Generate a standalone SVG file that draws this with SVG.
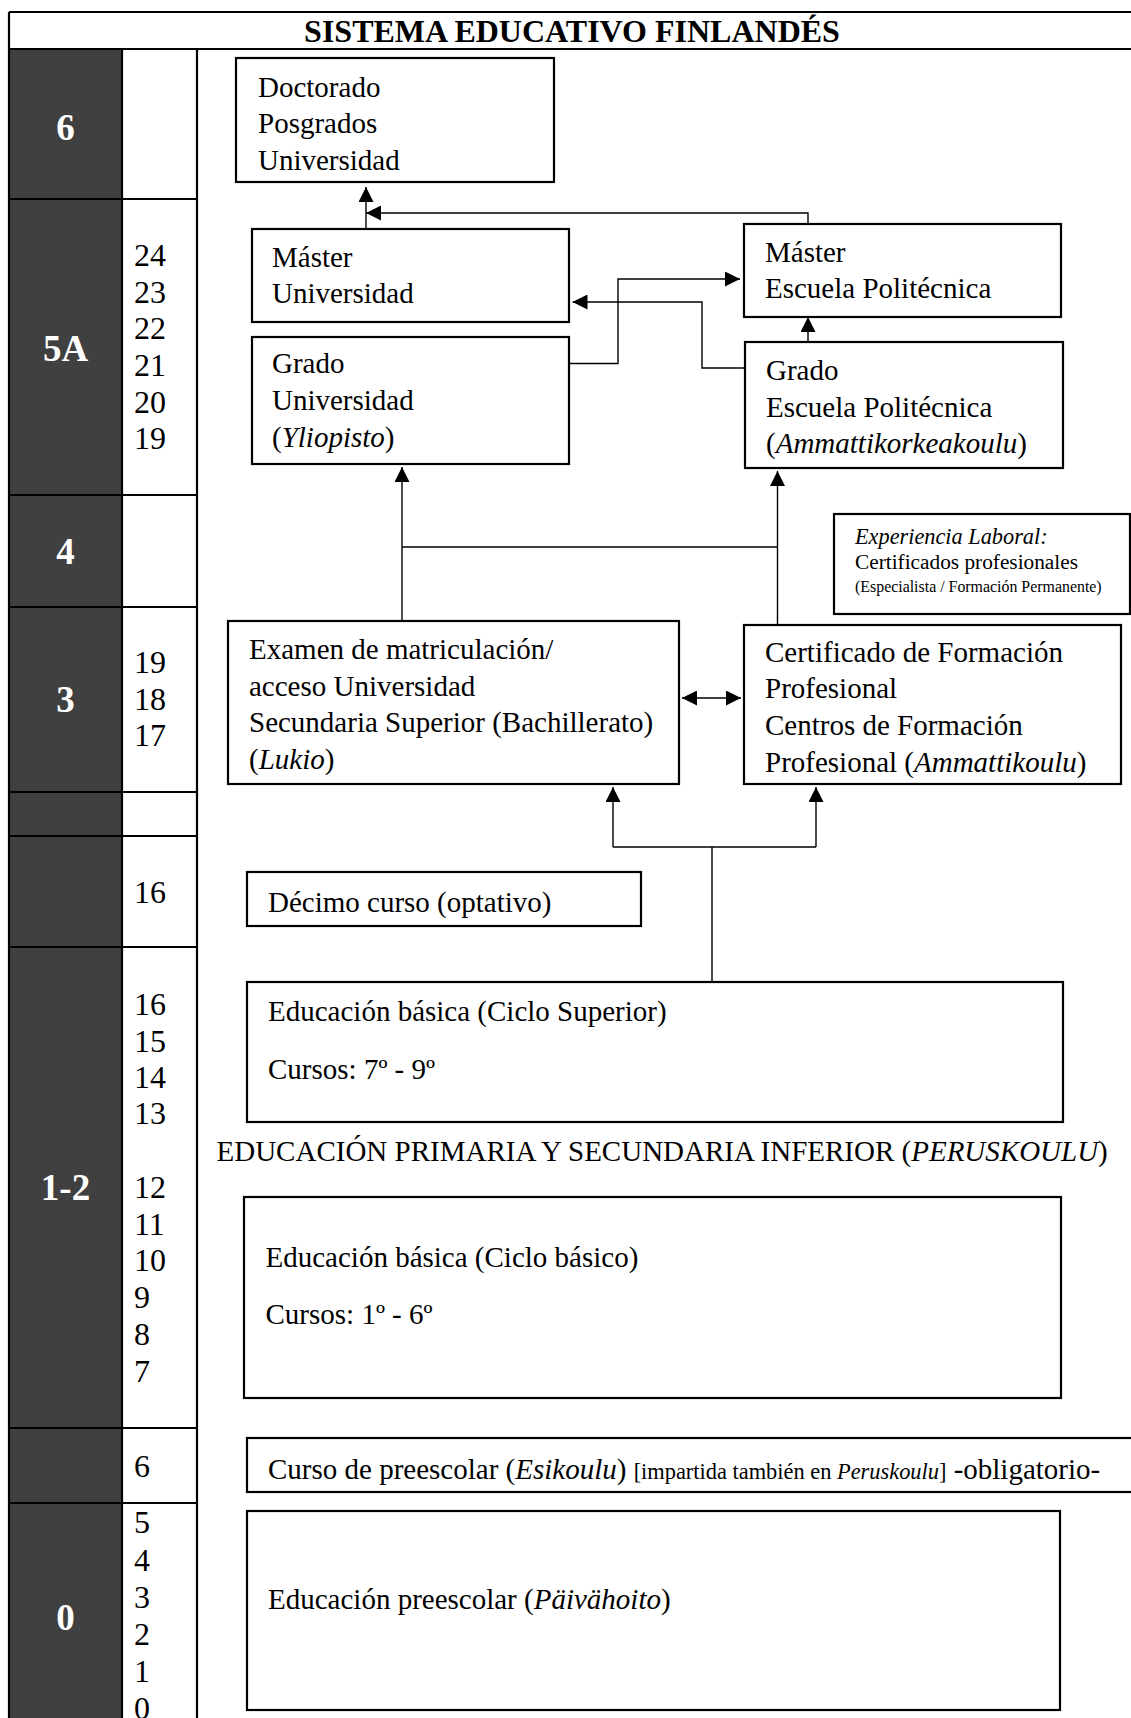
<svg xmlns="http://www.w3.org/2000/svg" width="1131" height="1718" viewBox="0 0 1131 1718">
<defs>
<style>
  text { font-family: "Liberation Serif", "Times New Roman", serif; fill: #000; }
  .t { font-size: 29px; }
  .age { font-size: 32px; }
  .lvl { font-size: 37px; font-weight: bold; fill: #fff; text-anchor: middle; }
  .title { font-size: 32px; font-weight: bold; text-anchor: middle; }
  .sm { font-size: 22.4px; }
  .box { fill: #fff; stroke: #000; stroke-width: 2.2; }
  .grid { stroke: #000; stroke-width: 2.2; fill: none; }
  .conn { stroke: #000; stroke-width: 1.4; fill: none; }
  .arr { marker-end: url(#arrow); }
  .i { font-style: italic; }
</style>
<marker id="arrow" markerUnits="userSpaceOnUse" markerWidth="15" markerHeight="15" viewBox="0 0 15 15" refX="15" refY="7.5" orient="auto-start-reverse">
  <path d="M0,0 L15,7.5 L0,15 z" fill="#000"/>
</marker>
</defs>

<rect width="1131" height="1718" fill="#fff"/>

<!-- table frame: level column, age column, content column -->
<g id="table">
  <rect x="9" y="49" width="113" height="1690" fill="#404040"/>
  <path class="grid" d="M9,12 H1140 M9,49 H1140 M9,12 V1740 M122,49 V1740 M197,49 V1740 M1135,12 V1740
    M9,199 H197 M9,495 H197 M9,607 H197 M9,792 H197 M9,836 H197 M9,947 H197 M9,1428 H197 M9,1503 H197"/>
  <text class="title" x="572" y="41.5">SISTEMA EDUCATIVO FINLANDÉS</text>
</g>

<!-- education levels -->
<g id="levels">
  <text class="lvl" x="65.5" y="140">6</text>
  <text class="lvl" x="65.5" y="361">5A</text>
  <text class="lvl" x="65.5" y="564">4</text>
  <text class="lvl" x="65.5" y="712">3</text>
  <text class="lvl" x="65.5" y="1200">1-2</text>
  <text class="lvl" x="65.5" y="1630">0</text>
</g>

<!-- ages -->
<g id="ages" class="age">
  <text x="134" y="266">24</text>
  <text x="134" y="302.7">23</text>
  <text x="134" y="339.3">22</text>
  <text x="134" y="376">21</text>
  <text x="134" y="412.7">20</text>
  <text x="134" y="449.3">19</text>
  <text x="134" y="672.7">19</text>
  <text x="134" y="709.5">18</text>
  <text x="134" y="746.3">17</text>
  <text x="134" y="903.3">16</text>
  <text x="134" y="1015">16</text>
  <text x="134" y="1051.7">15</text>
  <text x="134" y="1088.3">14</text>
  <text x="134" y="1124">13</text>
  <text x="134" y="1198.3">12</text>
  <text x="134" y="1235">11</text>
  <text x="134" y="1271.3">10</text>
  <text x="134" y="1308">9</text>
  <text x="134" y="1345">8</text>
  <text x="134" y="1381.7">7</text>
  <text x="134" y="1476.7">6</text>
  <text x="134" y="1533.3">5</text>
  <text x="134" y="1570.5">4</text>
  <text x="134" y="1607.5">3</text>
  <text x="134" y="1644.5">2</text>
  <text x="134" y="1681.5">1</text>
  <text x="134" y="1719">0</text>
</g>

<!-- connectors -->
<g id="connectors" class="conn">
  <path class="arr" d="M366,229 V187"/>
  <path class="arr" d="M808,224 V213 H366"/>
  <path class="arr" d="M569,363.5 H618 V279 H740"/>
  <path class="arr" d="M745,368 H702 V302 H572.5"/>
  <path class="arr" d="M808,342 V317"/>
  <path d="M402,547 H777.5"/>
  <path class="arr" d="M402,621 V467"/>
  <path class="arr" d="M777.5,624 V471"/>
  <path d="M682,698 H741" marker-start="url(#arrow)" marker-end="url(#arrow)"/>
  <path d="M712,982 V847 M613,847 H816"/>
  <path class="arr" d="M613,847 V787"/>
  <path class="arr" d="M816,847 V787"/>
</g>

<!-- nodes -->
<g id="doctorado">
  <rect class="box" x="236" y="58" width="318" height="124"/>
  <text class="t" x="258" y="96.7">Doctorado</text>
  <text class="t" x="258" y="133.3">Posgrados</text>
  <text class="t" x="258" y="170">Universidad</text>
</g>

<g id="master-universidad">
  <rect class="box" x="252" y="229" width="317" height="93"/>
  <text class="t" x="272" y="266.7">Máster</text>
  <text class="t" x="272" y="303.3">Universidad</text>
</g>

<g id="master-politecnica">
  <rect class="box" x="744" y="224" width="317" height="93"/>
  <text class="t" x="765" y="261.7">Máster</text>
  <text class="t" x="765" y="298.3">Escuela Politécnica</text>
</g>

<g id="grado-universidad">
  <rect class="box" x="252" y="337" width="317" height="127"/>
  <text class="t" x="272" y="373.3">Grado</text>
  <text class="t" x="272" y="410">Universidad</text>
  <text class="t" x="272" y="446.7">(<tspan class="i">Yliopisto</tspan>)</text>
</g>

<g id="grado-politecnica">
  <rect class="box" x="745" y="342" width="318" height="126"/>
  <text class="t" x="766" y="380">Grado</text>
  <text class="t" x="766" y="416.7">Escuela Politécnica</text>
  <text class="t" x="766" y="453.3">(<tspan class="i">Ammattikorkeakoulu</tspan>)</text>
</g>

<g id="experiencia-laboral">
  <rect class="box" x="834" y="514" width="296" height="100"/>
  <text x="855" y="544" font-size="22.3" font-style="italic">Experiencia Laboral:</text>
  <text x="855" y="569" font-size="21.3">Certificados profesionales</text>
  <text x="855" y="592" font-size="15.9">(Especialista / Formación Permanente)</text>
</g>

<g id="bachillerato">
  <rect class="box" x="228" y="621" width="451" height="163"/>
  <text class="t" x="249" y="659">Examen de matriculación/</text>
  <text class="t" x="249" y="695.7">acceso Universidad</text>
  <text class="t" x="249" y="732.3">Secundaria Superior (Bachillerato)</text>
  <text class="t" x="249" y="768.7">(<tspan class="i">Lukio</tspan>)</text>
</g>

<g id="formacion-profesional">
  <rect class="box" x="744" y="625" width="377" height="159"/>
  <text class="t" x="765" y="661.7">Certificado de Formación</text>
  <text class="t" x="765" y="698">Profesional</text>
  <text class="t" x="765" y="735">Centros de Formación</text>
  <text class="t" x="765" y="771.7">Profesional (<tspan class="i">Ammattikoulu</tspan>)</text>
</g>

<g id="decimo-curso">
  <rect class="box" x="247" y="872" width="394" height="54"/>
  <text class="t" x="268" y="912">Décimo curso (optativo)</text>
</g>

<g id="ciclo-superior">
  <rect class="box" x="247" y="982" width="816" height="140"/>
  <text class="t" x="268" y="1020.7">Educación básica (Ciclo Superior)</text>
  <text class="t" x="268" y="1079.3">Cursos: 7º - 9º</text>
</g>

<g id="peruskoulu">
  <text class="t" x="216.5" y="1161">EDUCACIÓN PRIMARIA Y SECUNDARIA INFERIOR (<tspan class="i">PERUSKOULU</tspan>)</text>
</g>

<g id="ciclo-basico">
  <rect class="box" x="244" y="1197" width="817" height="201"/>
  <text class="t" x="265.5" y="1266.7">Educación básica (Ciclo básico)</text>
  <text class="t" x="265.5" y="1324">Cursos: 1º - 6º</text>
</g>

<g id="esikoulu">
  <rect class="box" x="247" y="1438" width="900" height="54"/>
  <text class="t" x="268" y="1479">Curso de preescolar (<tspan class="i">Esikoulu</tspan>) <tspan class="sm">[impartida también en <tspan class="i">Peruskoulu</tspan>]</tspan> -obligatorio-</text>
</g>

<g id="paivahoito">
  <rect class="box" x="247" y="1511" width="813" height="199"/>
  <text class="t" x="268" y="1609">Educación preescolar (<tspan class="i">Päivähoito</tspan>)</text>
</g>
</svg>
